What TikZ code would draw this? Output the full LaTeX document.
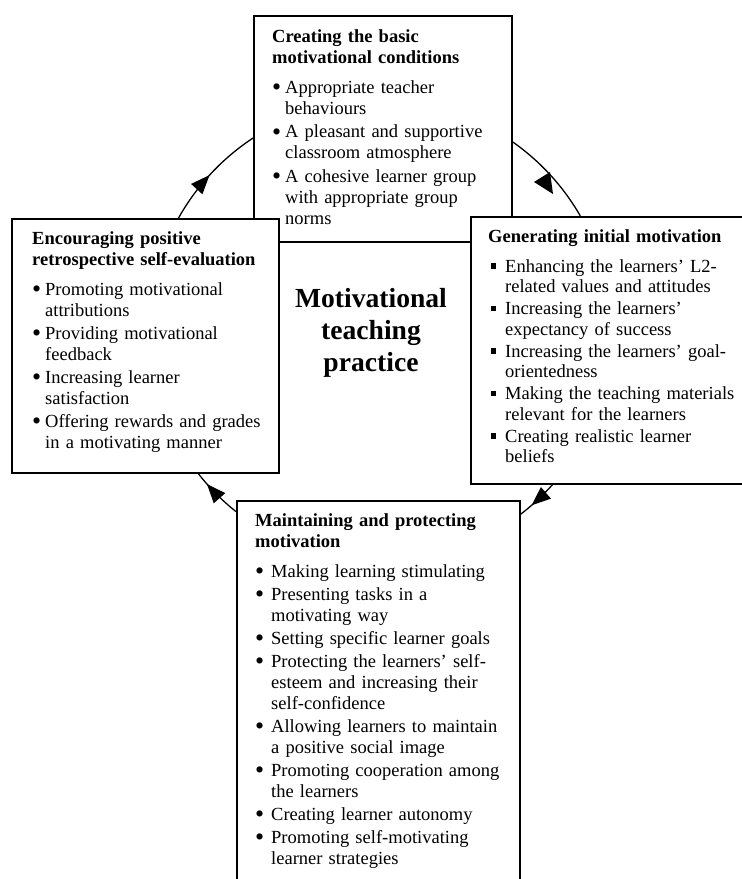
\documentclass[tikz,border=0pt]{standalone}
\usepackage{fontspec}
\setmainfont{Liberation Serif}
\usetikzlibrary{arrows.meta,decorations.markings}
\newcommand{\bwd}{13pt}
\newcommand{\bi}{\makebox[\bwd][l]{\rlap{\raisebox{-2.5pt}{\scalebox{1.4}{\textbullet}}}}}
\newcommand{\sqb}{\makebox[\bwd][l]{\hspace{3pt}\rule[3.5pt]{4.5pt}{5.5pt}}}
\newcommand{\ci}{\hspace*{\bwd}}
\begin{document}
\begin{tikzpicture}[x=1pt,y=-1pt,
  box/.style={draw=black, line width=1.6pt, fill=white, inner sep=0pt, anchor=north west},
  txt/.style={anchor=base west, inner sep=0pt, align=left, text width=#1,
    font=\fontsize{18.5pt}{21pt}\selectfont},
  conn/.style={draw=black, line width=1.3pt},
  arrowat/.style={postaction={decorate, decoration={markings,
    mark=at position #1 with {\arrow{Triangle[length=19pt,width=15pt]}}}}}]
\useasboundingbox (0,0) rectangle (742,879);
\clip (0,0) rectangle (742,879);
\fill[white] (0,0) rectangle (742,879);

\coordinate (C) at (380,331);
% arcs of the cycle
\draw[conn, arrowat=0.48] ([shift={(209.3:231)}]C) arc[start angle=209.3, end angle=236.7, radius=231];
\draw[conn] ([shift={(304.5:231)}]C) arc[start angle=304.5, end angle=330.1, radius=231];
\draw[conn, arrowat=0.66] ([shift={(41.2:231)}]C) arc[start angle=41.2, end angle=53.0, radius=231];
\draw[conn, arrowat=0.72] ([shift={(128.6:231)}]C) arc[start angle=128.6, end angle=142.4, radius=231];
\fill (534,182) -- (550,172) -- (553,194) -- cycle;

% boxes
\node[box, minimum width=258, minimum height=226] (top) at (253,15) {};
\node[box, minimum width=300, minimum height=267] (right) at (470,216) {};
\node[box, minimum width=267, minimum height=254] (left) at (11,218) {};
\node[box, minimum width=283, minimum height=420] (bottom) at (236,500) {};

% texts
\node[txt=236pt] (toptxt) at (272,42) {%
{\bfseries Creating the basic\\motivational conditions}\\[9pt]
\bi Appropriate teacher\\
\ci behaviours\\[2.5pt]
\bi A pleasant and supportive\\
\ci classroom atmosphere\\[2.5pt]
\bi A cohesive learner group\\
\ci with appropriate group\\
\ci norms};

\renewcommand{\bwd}{17pt}
\node[txt=250pt, font=\fontsize{18.5pt}{20.5pt}\selectfont] (righttxt) at (488,242) {%
{\bfseries Generating initial motivation}\\[9.5pt]
\sqb Enhancing the learners’ L2-\\
\ci related values and attitudes\\[1.5pt]
\sqb Increasing the learners’\\
\ci expectancy of success\\[1.5pt]
\sqb Increasing the learners’ goal-\\
\ci orientedness\\[1.5pt]
\sqb Making the teaching materials\\
\ci relevant for the learners\\[1.5pt]
\sqb Creating realistic learner\\
\ci beliefs};

\renewcommand{\bwd}{13pt}
\node[txt=245pt] (lefttxt) at (32,244) {%
{\bfseries Encouraging positive\\retrospective self-evaluation}\\[9pt]
\bi Promoting motivational\\
\ci attributions\\[2pt]
\bi Providing motivational\\
\ci feedback\\[2pt]
\bi Increasing learner\\
\ci satisfaction\\[2pt]
\bi Offering rewards and grades\\
\ci in a motivating manner};

\renewcommand{\bwd}{16pt}
\node[txt=262pt] (bottomtxt) at (255,526) {%
{\bfseries Maintaining and protecting\\motivation}\\[9pt]
\bi Making learning stimulating\\[2pt]
\bi Presenting tasks in a\\
\ci motivating way\\[2pt]
\bi Setting specific learner goals\\[2pt]
\bi Protecting the learners’ self-\\
\ci esteem and increasing their\\
\ci self-confidence\\[2pt]
\bi Allowing learners to maintain\\
\ci a positive social image\\[2pt]
\bi Promoting cooperation among\\
\ci the learners\\[2pt]
\bi Creating learner autonomy\\[2pt]
\bi Promoting self-motivating\\
\ci learner strategies};

\node[align=center, inner sep=0pt, font=\bfseries\fontsize{27.6pt}{32pt}\selectfont] (title) at (371,333) {Motivational\\teaching\\practice};
\end{tikzpicture}
\end{document}
